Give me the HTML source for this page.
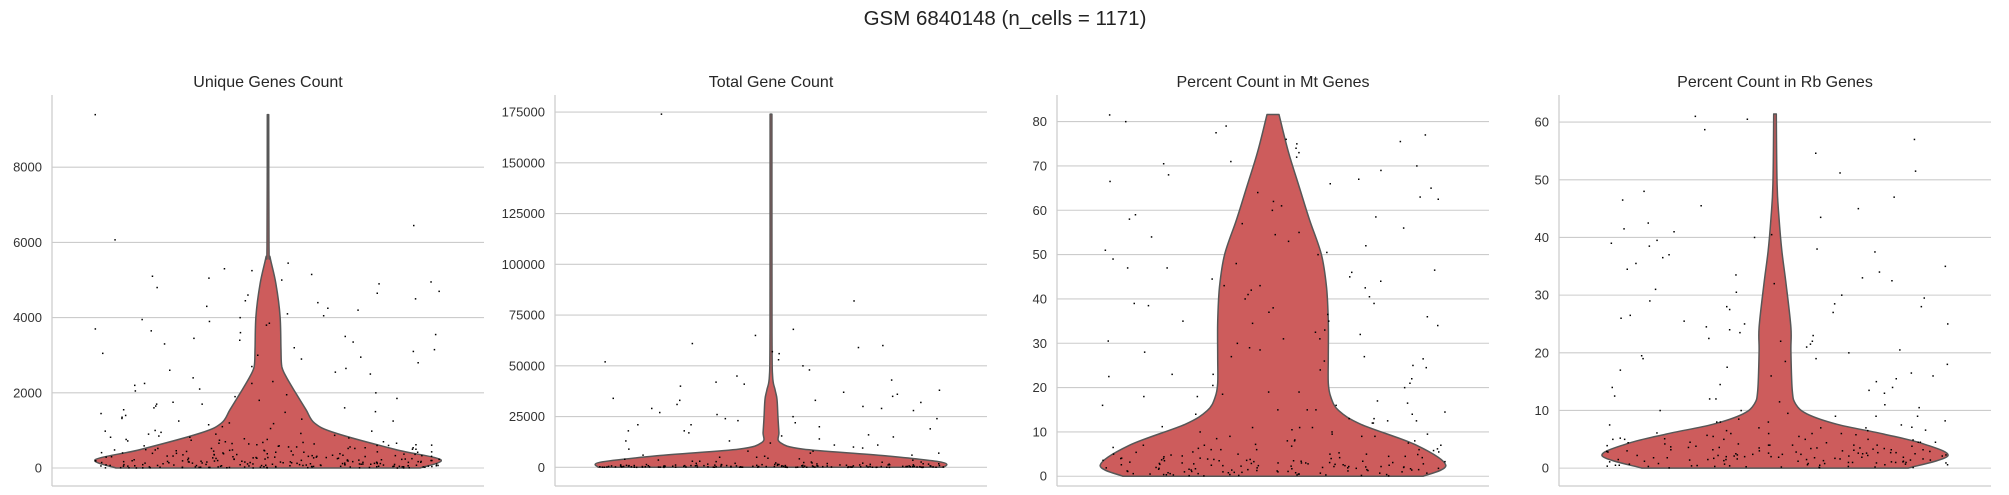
<!DOCTYPE html>
<html><head><meta charset="utf-8">
<style>
html,body{margin:0;padding:0;background:#fff;}
svg{display:block;font-family:"Liberation Sans",Arial,sans-serif;}
</style></head>
<body>
<svg id="fig" width="2009" height="495" viewBox="0 0 2009 495" xmlns="http://www.w3.org/2000/svg">
<text x="1005" y="25" text-anchor="middle" font-size="20.5" fill="#222">GSM 6840148 (n_cells = 1171)</text>
</svg>
<script>
// ---- data ----
const panelTitles = ["Unique Genes Count","Total Gene Count","Percent Count in Mt Genes","Percent Count in Rb Genes"];
const yMins = [-479, -9200, -2.2, -3.1];
const yMaxs = [9920, 183400, 86, 64.7];
const ticks1 = [0,2000,4000,6000,8000];
const ticks2 = [0,25000,50000,75000,100000,125000,150000,175000];
const ticks3 = [0,10,20,30,40,50,60,70,80];
const ticks4 = [0,10,20,30,40,50,60];
const violinY1 = [0,220,490,930,1190,1550,2000,2430,2700,3140,4020,4900,5600,5880,9400];
const violinW1 = [0.88,1.0,0.74,0.39,0.27,0.22,0.16,0.105,0.08,0.075,0.07,0.046,0.012,0.006,0.004];
const violinY2 = [0,2450,5700,9000,12300,17200,25300,33500,38400,45000,66000,174000];
const violinW2 = [1.0,0.99,0.66,0.185,0.052,0.046,0.04,0.035,0.023,0.009,0.006,0.005];
const violinY3 = [0,2.5,7,11.7,14.8,17.8,21,27,34.8,42.5,50,58,65.5,73,81.6];
const violinW3 = [0.87,1.0,0.83,0.51,0.38,0.335,0.32,0.32,0.32,0.31,0.28,0.21,0.15,0.09,0.035];
const violinY4 = [0,2.1,4.2,5.9,7.6,9.4,11.1,13.4,20.3,24.4,31.9,37.6,43.4,49.2,61.4];
const violinW4 = [0.77,1.0,0.86,0.63,0.36,0.185,0.12,0.1,0.092,0.092,0.064,0.04,0.023,0.012,0.0075];
const points1 = [9400,6450,6070,5450,5300,5250,5150,5100,5050,5000,4950,4900,4800,4700,4650,4600,4500,4450,4400,4300,4200,4100,4050,4000,3950,3900,3800,3700,3650,3600,3550,3500,3450,3400,3300,3200,3150,3100,3000,2950,2900,2800,2700,2600,2550,2500,2400,2300,2250,2200,2100,2050,2000,1950,1900,1850,1800,1750,1700,1650,1600,1550,1500,1450,1400,1350,1300,1250,1200,1150,1100,1050,1000,980,950,920,900,870,850,820,800,780,760,740,720,700,680,660,640,620,600,590,580,560,540,520,500,490,480,460,440,420,400,390,380,370,360,350,340,330,320,310,300,290,280,270,260,250,240,230,220,210,200,195,190,185,180,175,170,165,160,155,150,145,140,135,130,125,120,115,110,105,100,95,90,85,80,75,70,65,60,55,50,45,40,35,30,25,20,15,10,1480,1320,1180,1700,2250,2650,3350,3850,4250,3050,1600,1250,980,760,640,520,470,430,350,310,280,250,220,190,170,150,130,110,90,80,70,60,50,40,30,20,15,10,620,560,480,420,380,330,290,260,230,200,180,160,140,120,100,90,80,70,60,50,45,40,35,30,25,20,15,10,5];
const lowPoints1 = [700,650,600,560,520,480,450,420,390,360,330,300,280,260,240,220,200,185,170,155,140,125,110,95,80,70,60,50,40,30,20,15,10,5,680,610,540,470,410,350,310,270,230,190,160,130,100,75,55,35,25,12,8,3,900,820,740,660,590,520,460,400,340,290,240,200,165,135,105,85,65,45,28,18,6,2,450,380,320,270,215,175,145,115,88,62,42,22,9,4,1,500,430,365,305,255,205,160,120,92,68,48,32,16,7];
const points2 = [174000,82000,68000,65000,61000,60000,59000,57000,56000,53000,52000,50000,48000,45000,43000,42000,41000,40000,38000,37000,36000,35000,34000,33000,32000,31000,30000,29000,28000,27000,26000,25000,24000,23000,22000,21000,20000,19000,18000,17000,16000,15000,14000,13000,12000,11000,10000,9000,8000,7000,6000,5500,5000,4500,4000,3500,3000,2800,2600,2400,2200,2000,1800,1600,1400,1200,1000,900,800,700,600,500,400,300,200,100,33000,29000,24000,21000,18000,15500,13000,11000,9500,8000,7000,6000,5000,4200,3600,3000,2600,2200,1900,1600,1400,1200,1000,900,800,700,600,500,450,400,350,300,250,200,150,100,900,800,700,600,500,450,400,350,300,250,200,150,100,50,1200,1000,850,700,600,500,400,300,200,100,50,20];
const lowPoints2 = [1500,1300,1100,950,850,750,650,550,480,420,360,300,250,200,160,120,90,60,40,20,1400,1200,1000,880,780,680,580,500,440,380,320,270,220,180,140,100,70,45,25,10,1600,1350,1150,980,860,760,660,560,470,400,340,280,230,190,150,110,80,50,30,15,5,2000,1700,1450,1250,1050,900,800,700,620,540,460,390,330,275,225,175,135,95,65,35,12,2500,2100,1800,1500,1300];
const points3 = [81.5,80,79,77.5,77,76,75,74,73,72,71,70,69,68,67,66,65,64,63,62,61,60,59,58,57,56,55,54,53,52,51,50,49,48,47,46,45,44,43,42,41,40,39,38,37,36,35,34,33,32,31,30,29,28,27,26,25,24,23,22,21,20,19,18,17,16,15,14,13,12,11,10,9,8,7,6,5,4,3,2,1,75.5,70.5,66.5,62.5,58.5,54.5,50.5,46.5,44.5,42.5,40.5,38.5,36.5,34.5,32.5,30.5,28.5,26.5,24.5,22.5,20.5,18.5,16.5,14.5,12.5,10.5,9.5,8.5,7.5,6.5,5.5,4.5,3.5,2.5,1.5,0.5,47,43,39,35,31,27,23,19,15,11,9,7,6,5,4,3.2,2.8,2.2,1.8,1.2,0.8,0.4,12,10,8,6,5,4,3.5,3,2.6,2.1,1.6,1.1,0.7,0.3,6,5,4.2,3.6,3.1,2.7,2.3,1.9,1.4,1,0.6,0.2,4.5,3.8,3.3,2.9,2.4,2,1.7,1.3,0.9,0.5,0.1];
const lowPoints3 = [3.8,3.4,3,2.7,2.4,2.1,1.8,1.5,1.2,0.9,0.6,0.3,0.1,4.2,3.6,3.1,2.6,2.2,1.9,1.6,1.3,1,0.7,0.4,0.2,5.5,4.8,4.1,3.5,2.9,2.5,2,1.7,1.4,1.1,0.8,0.5,7,6.2,5.4,4.6,3.9,3.3,2.8,2.3,1.8,1.4,1,0.6,0.3,9,8,6.8,5.8,4.9,4.1,3.4,2.8,2.2,1.7,1.2,0.8,0.4,15,13,11,9.5,8.2,7.2,6.3,5.3,4.4,3.7,3,2.4,1.9,1.5,1.1,0.7,0.35,0.15,18,16,14,12.5,11.2];
const points4 = [61,60.5,58.7,57,54.6,51.5,51.2,48,47,46.5,45.5,45,43.5,42.5,41.5,41,40.5,40,39.5,39,38.5,38,37.5,37,36.5,35.5,35,34.5,34,33.5,33,32.5,32,31,30.5,30,29.5,29,28.5,28,27.5,27,26.5,26,25.5,25,24.5,24,23.5,23,22.5,22,21.5,21,20.5,20,19.5,19,18.5,18,17.5,17,16.5,16,15.5,15,14.5,14,13.5,13,12.5,12,11.5,11,10.5,10,9.5,9,8.5,8,7.5,7,6.5,6,5.5,5,4.5,4,3.5,3,2.5,2,1.5,1,0.5,28,25,22,19,16,14,12,10,9,8,7,6,5.5,5,4.5,4,3.6,3.2,2.8,2.4,2,1.6,1.2,0.8,0.4,8,7,6,5,4.5,4,3.5,3,2.6,2.2,1.8,1.4,1,0.6,0.2,6,5,4,3.4,2.9,2.5,2.1,1.7,1.3,0.9,0.5,0.1,4,3.3,2.7,2.3,1.9,1.5,1.1,0.7,0.3];
const lowPoints4 = [3.6,3.1,2.7,2.4,2.1,1.8,1.5,1.2,0.9,0.6,0.3,0.1,4.2,3.7,3.2,2.8,2.5,2.2,1.9,1.6,1.3,1,0.7,0.4,0.2,5,4.4,3.9,3.4,3,2.6,2.3,2,1.7,1.4,1.1,0.8,0.5,0.25,6.5,5.7,4.9,4.2,3.5,2.9,2.4,1.9,1.5,1.1,0.7,0.35,7.5,6.6,5.8,5.1,4.4,3.8,3.2,2.7,2.2,1.8,1.4,1,0.6,0.3,0.05,9,8.2,7.1,6.1,5.2,4.5,3.8,3.2,2.6,2.1,1.6,1.2,0.8,0.45,0.15];
const tickSets = [ticks1,ticks2,ticks3,ticks4];
const violinYs = [violinY1,violinY2,violinY3,violinY4];
const violinWs = [violinW1,violinW2,violinW3,violinW4];
const pointSets = [points1,points2,points3,points4];
const lowSets = [lowPoints1,lowPoints2,lowPoints3,lowPoints4];

// ---- layout ----
const NS = "http://www.w3.org/2000/svg";
const svg = document.getElementById("fig");
const panelLefts = [52, 555, 1057, 1559];
const panelW = 432, plotTop = 95, plotBottom = 486;
function mk(tag, attrs, parent){ const e=document.createElementNS(NS,tag); for(const k in attrs) e.setAttribute(k,attrs[k]); (parent||svg).appendChild(e); return e; }
function jit(i,p){ const s=Math.sin(i*12.9898+p*78.233)*43758.5453; return (s-Math.floor(s))*2-1; }
function smooth(pts){ // Catmull-Rom through pts (array of [x,y]), returns path segments (no M)
  let d="";
  for(let i=0;i<pts.length-1;i++){
    const p0=pts[Math.max(0,i-1)], p1=pts[i], p2=pts[i+1], p3=pts[Math.min(pts.length-1,i+2)];
    const c1=[p1[0]+(p2[0]-p0[0])/6, p1[1]+(p2[1]-p0[1])/6];
    const c2=[p2[0]-(p3[0]-p1[0])/6, p2[1]-(p3[1]-p1[1])/6];
    d+=" C"+c1[0].toFixed(1)+","+c1[1].toFixed(1)+" "+c2[0].toFixed(1)+","+c2[1].toFixed(1)+" "+p2[0].toFixed(1)+","+p2[1].toFixed(1);
  }
  return d;
}

for(let p=0;p<4;p++){
  const L=panelLefts[p], cx=L+panelW/2, maxHalf=0.4*panelW;
  const y=v=> plotBottom-(v-yMins[p])/(yMaxs[p]-yMins[p])*(plotBottom-plotTop);
  const g=mk("g",{});
  
  
  tickSets[p].forEach(t=>{
    const ln=mk("line",{x1:L,x2:L+panelW,y1:y(t),y2:y(t),stroke:"#cccccc","stroke-width":1.1},g);
    
    
    const tx=mk("text",{x:L-10,y:y(t)+4.5,"text-anchor":"end","font-size":13,fill:"#333"},g);
    
    
    tx.textContent=t;
  });
  const sp1=mk("line",{x1:L,x2:L,y1:plotTop,y2:plotBottom,stroke:"#cccccc","stroke-width":1.25},g);
  
  
  const sp2=mk("line",{x1:L,x2:L+panelW,y1:plotBottom,y2:plotBottom,stroke:"#cccccc","stroke-width":1.25},g);
  
  
  const tt=mk("text",{x:cx,y:87,"text-anchor":"middle","font-size":16,fill:"#262626"},g);
  
  
  tt.textContent=panelTitles[p];
  const vy=violinYs[p], vw=violinWs[p];
  const leftPts=[], rightPts=[];
  for(let i=0;i<vy.length;i++){ leftPts.push([cx-vw[i]*maxHalf, y(vy[i])]); rightPts.push([cx+vw[i]*maxHalf, y(vy[i])]); }
  rightPts.reverse();
  let d="M"+leftPts[0][0].toFixed(1)+","+leftPts[0][1].toFixed(1)+smooth(leftPts)+" L"+rightPts[0][0].toFixed(1)+","+rightPts[0][1].toFixed(1)+smooth(rightPts)+" Z";
  const poly=mk("path",{d:d,fill:"#cd5c5c",stroke:"#575757","stroke-width":1.5,"stroke-linejoin":"round"},g);
  
  
  const all=pointSets[p].concat(lowSets[p]);
  all.forEach((v,i)=>{
    const c=mk("rect",{x:(cx+jit(i,p)*maxHalf-0.7).toFixed(1),y:(y(v)-0.7).toFixed(1),width:1.5,height:1.5,fill:"#000"},g);
    
    
  });
}
</script>
</body></html>
